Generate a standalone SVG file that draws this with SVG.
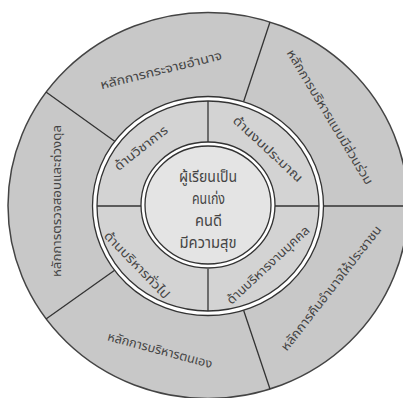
<svg xmlns="http://www.w3.org/2000/svg" width="403" height="398" viewBox="0 0 403 398">
<style>
.ln{stroke:#333;stroke-width:1.3;fill:none}
.t{font-family:"Noto Sans Thai","Noto Sans Thai UI","Loma","Garuda","Tlwg Typo","DejaVu Sans","Noto Sans",sans-serif;fill:#444;text-anchor:middle}
.o{font-size:12.5px}
.m{font-size:12.5px}
.c{font-size:15px}
</style>
<rect width="403" height="398" fill="#fff"/>
<g id="outer-ring">
<ellipse cx="208" cy="205.5" rx="200" ry="193" fill="#c8c8c8" stroke="#444" stroke-width="1.5"/>
</g>
<g id="connectors">
<line class="ln" x1="323" y1="206" x2="410" y2="206"/>
<line class="ln" x1="243.5" y1="310" x2="270" y2="389"/>
<line class="ln" x1="115" y1="270" x2="46" y2="319"/>
<line class="ln" x1="115" y1="141.5" x2="46" y2="92"/>
<line class="ln" x1="243.5" y1="102" x2="270" y2="22"/>
</g>
<g id="middle-ring">
<ellipse cx="208" cy="206" rx="115.5" ry="109.5" fill="#fff" stroke="#333" stroke-width="1.3"/>
<ellipse cx="208" cy="206" rx="111" ry="105" fill="#d3d3d3" stroke="#333" stroke-width="1.3"/>
<line class="ln" x1="208" y1="101" x2="208" y2="143"/>
<line class="ln" x1="208" y1="269" x2="208" y2="311"/>
<line class="ln" x1="97" y1="206" x2="141" y2="206"/>
<line class="ln" x1="275" y1="206" x2="319" y2="206"/>
</g>
<g id="center">
<ellipse cx="208" cy="205" rx="67" ry="63" fill="#fff" stroke="#333" stroke-width="1.3"/>
<ellipse cx="208" cy="205" rx="63" ry="59" fill="#e4e4e4" stroke="#333" stroke-width="1.3"/>
<text class="t c" x="208" y="182" textLength="58" lengthAdjust="spacingAndGlyphs">ผู้เรียนเป็น</text>
<text class="t c" x="208.5" y="204" textLength="33" lengthAdjust="spacingAndGlyphs">คนเก่ง</text>
<text class="t c" x="208.5" y="226" textLength="27" lengthAdjust="spacingAndGlyphs">คนดี</text>
<text class="t c" x="208" y="248" textLength="57" lengthAdjust="spacingAndGlyphs">มีความสุข</text>
</g>
<g id="mid-academic">
<text class="t m" transform="translate(141,148) rotate(-38)" dy="0.35em" textLength="64" lengthAdjust="spacingAndGlyphs">ด้านวิชาการ</text>
</g>
<g id="mid-budget">
<text class="t m" transform="translate(268,149) rotate(43)" dy="0.35em" textLength="90" lengthAdjust="spacingAndGlyphs">ด้านงบประมาณ</text>
</g>
<g id="mid-personnel">
<text class="t m" transform="translate(268,265) rotate(-43)" dy="0.35em" textLength="108" lengthAdjust="spacingAndGlyphs">ด้านบริหารงานบุคคล</text>
</g>
<g id="mid-general">
<text class="t m" transform="translate(137,265) rotate(46)" dy="0.35em" textLength="88" lengthAdjust="spacingAndGlyphs">ด้านบริหารทั่วไป</text>
</g>
<g id="out-decentral">
<text class="t o" transform="translate(161,70) rotate(-14)" dy="0.35em" textLength="125" lengthAdjust="spacingAndGlyphs">หลักการกระจายอำนาจ</text>
</g>
<g id="out-participation">
<text class="t o" transform="translate(330,117) rotate(59)" dy="0.35em" textLength="155" lengthAdjust="spacingAndGlyphs">หลักการบริหารแบบมีส่วนร่วม</text>
</g>
<g id="out-return-power">
<text class="t o" transform="translate(331,288) rotate(-52)" dy="0.35em" textLength="155" lengthAdjust="spacingAndGlyphs">หลักการคืนอำนาจให้ประชาชน</text>
</g>
<g id="out-self-manage">
<text class="t o" transform="translate(160,350) rotate(15)" dy="0.35em" textLength="108" lengthAdjust="spacingAndGlyphs">หลักการบริหารตนเอง</text>
</g>
<g id="out-check-balance">
<text class="t o" transform="translate(57,201) rotate(-90)" dy="0.35em" textLength="152" lengthAdjust="spacingAndGlyphs">หลักการตรวจสอบและถ่วงดุล</text>
</g>
</svg>
